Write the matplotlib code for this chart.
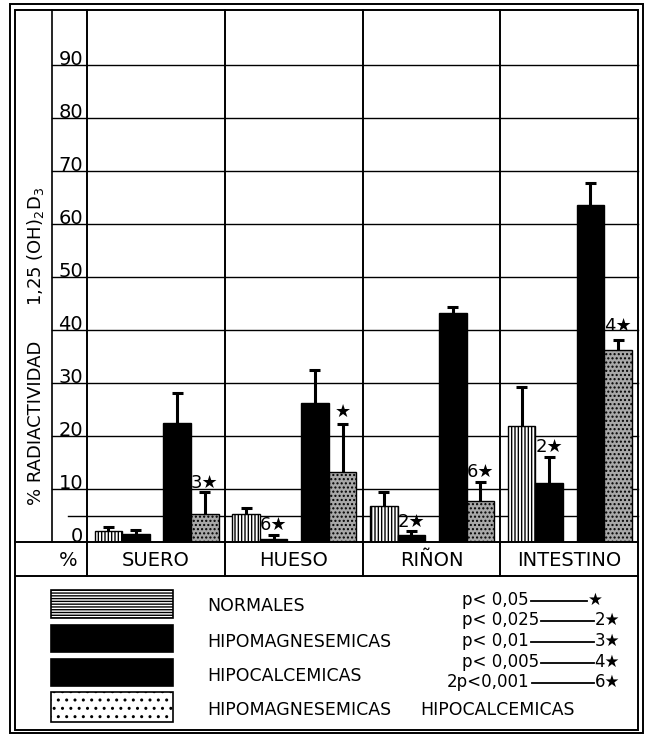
import numpy as np
import matplotlib
matplotlib.use('Agg')
import matplotlib.pyplot as plt
from matplotlib.patches import Rectangle

plt.rcParams['font.family'] = ['DejaVu Sans']
plt.rcParams['hatch.linewidth'] = 1.0

# %% data
categories = ['SUERO', 'HUESO', 'RIÑON', 'INTESTINO']

normales = [2.0, 5.2, 6.8, 21.9]
normales_err = [0.8, 1.3, 2.6, 7.4]
hipomag = [1.6, 0.5, 1.4, 11.2]
hipomag_err = [0.7, 0.8, 0.6, 4.9]
hipocal = [22.5, 26.3, 43.2, 63.5]
hipocal_err = [5.7, 6.1, 1.2, 4.2]
mixto = [5.2, 13.2, 7.7, 36.2]
mixto_err = [4.2, 9.0, 3.7, 2.0]

# significance marks over the bars
marks_cat = [0, 1, 1, 2, 2, 3, 3]
marks_grp = [3, 1, 3, 1, 3, 1, 3]
marks_y = [11.1, 3.3, 24.5, 3.7, 13.2, 17.9, 40.7]
marks_txt = ['3★', '6★', '★', '2★', '6★', '2★', '4★']

yticks = [0, 10, 20, 30, 40, 50, 60, 70, 80, 90]

legend_labels = ['NORMALES', 'HIPOMAGNESEMICAS', 'HIPOCALCEMICAS', 'HIPOMAGNESEMICAS']
p_left = ['p< 0,05', 'p< 0,025', 'p< 0,01', 'p< 0,005', '2p<0,001']
p_right = ['★', '2★', '3★', '4★', '6★']

# %% layout (pixels of a 650x735 page)
W, H = 650, 735
PL, PR, PT, PB = 87, 638, 10, 542   # plot box
ROW = 576                           # bottom of category row

fig = plt.figure(figsize=(W / 100, H / 100), dpi=100)

# frame axes in pixel coords
frame = fig.add_axes([0, 0, 1, 1])
frame.set_xlim(0, W)
frame.set_ylim(H, 0)
frame.axis('off')

frame.add_patch(Rectangle((10, 4), 633, 729, fill=False, lw=1.4, ec='black'))
frame.add_patch(Rectangle((15, 10), 623, 720, fill=False, lw=1.4, ec='black'))
frame.plot([52, 52], [PT, PB], color='black', lw=1.2)
frame.plot([15, PR], [ROW, ROW], color='black', lw=1.4)

frame.text(36, 423, '% RADIACTIVIDAD', rotation=90, ha='center', va='center', fontsize=13)
frame.text(36, 246, '1,25 (OH)$_2$D$_3$', rotation=90, ha='center', va='center', fontsize=13)
frame.text(68, 560, '%', ha='center', va='center', fontsize=14)

# %% bars
ax = fig.add_axes([PL / W, 1 - PB / H, (PR - PL) / W, (PB - PT) / H])
ax.set_facecolor('none')
ax.set_xlim(0, 4)
ax.set_ylim(0, (PB - PT) / 5.3)
for s in ax.spines.values():
    s.set_visible(False)
ax.set_xticks([])
ax.set_yticks([])

ax_h = PB - PT
ax_w = PR - PL
for v in yticks[1:]:
    ax.axhline(v, xmin=-(PL - 52) / ax_w, xmax=1, color='black', lw=1.0, clip_on=False, zorder=1)
ax.axhline(5, xmin=-(PL - 68) / ax_w, xmax=1, color='black', lw=1.0, clip_on=False, zorder=1)
ax.axhline(0, xmin=-(PL - 15) / ax_w, xmax=1, color='black', lw=1.4, clip_on=False, zorder=4)
for i in range(4):
    ax.axvline(i, ymin=-(ROW - PB) / ax_h, ymax=1, color='black', lw=1.4, clip_on=False, zorder=1)

for v in yticks:
    ax.text(-0.007, v, str(v), transform=ax.get_yaxis_transform(),
            ha='right', va='baseline', fontsize=14)

offsets = [0.155, 0.355, 0.655, 0.855]
width = 0.2
series = [(normales, normales_err), (hipomag, hipomag_err),
          (hipocal, hipocal_err), (mixto, mixto_err)]
styles = [dict(facecolor='white', hatch='|||||'),
          dict(facecolor='black'),
          dict(facecolor='black'),
          dict(facecolor='#a8a8a8', hatch='....')]

x0 = np.arange(len(categories))
for k, (vals, errs) in enumerate(series):
    xs = x0 + offsets[k]
    ax.bar(xs, vals, width=width, edgecolor='black', linewidth=1.0, zorder=2, **styles[k])
    tops = np.array(vals) + np.array(errs)
    ax.vlines(xs, vals, tops, color='black', lw=2.2, zorder=3)
    ax.hlines(tops, xs - 0.04, xs + 0.04, color='black', lw=2.2, zorder=3)

for c, g, y, t in zip(marks_cat, marks_grp, marks_y, marks_txt):
    ax.text(c + offsets[g], y, t, ha='center', va='center', fontsize=13, zorder=5)

for i, name in enumerate(categories):
    ax.text(i + 0.5, -(560 - PB) / ax_h, name, transform=ax.get_xaxis_transform(),
            ha='center', va='center', fontsize=14)

# %% legend
sw_y = [590, 625, 659, 692]
sw_h = [28, 27, 27, 30]
sw_styles = [dict(facecolor='white', hatch='------'),
             dict(facecolor='black'),
             dict(facecolor='black'),
             dict(facecolor='white', hatch='..')]
txt_y = [606, 642, 676, 710]
for k in range(4):
    frame.add_patch(Rectangle((51, sw_y[k]), 122, sw_h[k], edgecolor='black', lw=1.2, **sw_styles[k]))
    frame.text(207, txt_y[k], legend_labels[k], ha='left', va='center', fontsize=12.5)
frame.text(420, txt_y[3], 'HIPOCALCEMICAS', ha='left', va='center', fontsize=12.5)

p_y = [600, 620, 641, 662, 682]
p_x = [462, 462, 462, 462, 447]
p_rx = [603, 620, 620, 620, 620]
fig.canvas.draw()
rend = fig.canvas.get_renderer()
inv = frame.transData.inverted()
for k in range(5):
    tl = frame.text(p_x[k], p_y[k], p_left[k], ha='left', va='center', fontsize=12)
    tr = frame.text(p_rx[k], p_y[k], p_right[k], ha='right', va='center', fontsize=12)
    bl = tl.get_window_extent(rend)
    br = tr.get_window_extent(rend)
    xa = inv.transform((bl.x1, 0))[0] + 2
    xb = inv.transform((br.x0, 0))[0] - 1
    frame.plot([xa, xb], [p_y[k] + 1, p_y[k] + 1], color='black', lw=1.3)

fig.savefig('out.png', dpi=100)
